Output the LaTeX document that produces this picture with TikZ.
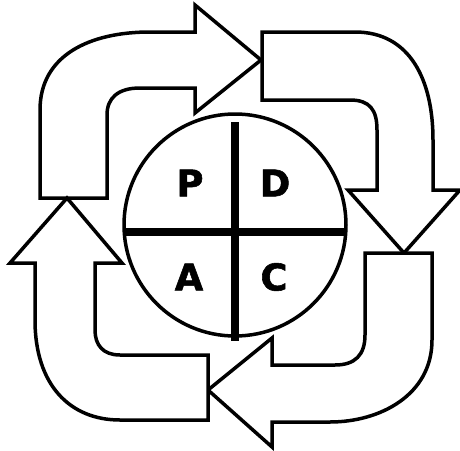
\documentclass[tikz,border=0pt]{standalone}
\usepackage{fontspec}
\newfontfamily\pdcafont[BoldFeatures={FakeBold=1.5}]{DejaVu Sans}
\usepackage{tikz}

\begin{document}
\begin{tikzpicture}[x=0.02cm,y=-0.02cm,
  loop/.style={draw,fill=white,line width=0.07cm,line join=miter},
  bar/.style={line width=0.16cm},
  letter/.style={font=\pdcafont\bfseries\fontsize{21}{21}\selectfont,inner sep=0pt}]
  \useasboundingbox (0,0) rectangle (460,450);
  % four arrows of the cycle
  \draw[loop] (40,198) -- (40,110) .. controls (40,55) and (90,32) .. (150,32) -- (195,32) -- (195,5)
    -- (261,60) -- (195,113) -- (195,88) -- (140,88) .. controls (118,88) and (107,98) .. (107,115) -- (107,198) -- cycle;
  \draw[loop] (262,32) -- (355,32) .. controls (410,32) and (433,80) .. (433,140) -- (433,190) -- (460,190)
    -- (404,253) -- (348,190) -- (377,190) -- (377,130) .. controls (377,110) and (370,100) .. (350,100) -- (262,100) -- cycle;
  \draw[loop] (432,253) -- (432,340) .. controls (432,395) and (380,422) .. (330,422) -- (272,422) -- (272,447)
    -- (208,390) -- (272,338) -- (272,365) -- (335,365) .. controls (355,365) and (365,355) .. (365,335) -- (365,253) -- cycle;
  \draw[loop] (208,420) -- (120,420) .. controls (70,420) and (35,385) .. (35,320) -- (35,263) -- (10,263)
    -- (67,198) -- (122,263) -- (95,263) -- (95,330) .. controls (95,345) and (103,355) .. (120,355) -- (208,355) -- cycle;
  % the wheel
  \coordinate (mid) at (235,225);
  \draw[line width=0.07cm] (mid) circle (111);
  \draw[bar] (235,122) -- (235,341);
  \draw[bar] (123,232) -- (347,232);
  \foreach \t/\x/\y in {P/190/183,D/275/183,A/189/277,C/274/277}
    \node[letter] (\t) at (\x,\y) {\t};
\end{tikzpicture}
\end{document}
